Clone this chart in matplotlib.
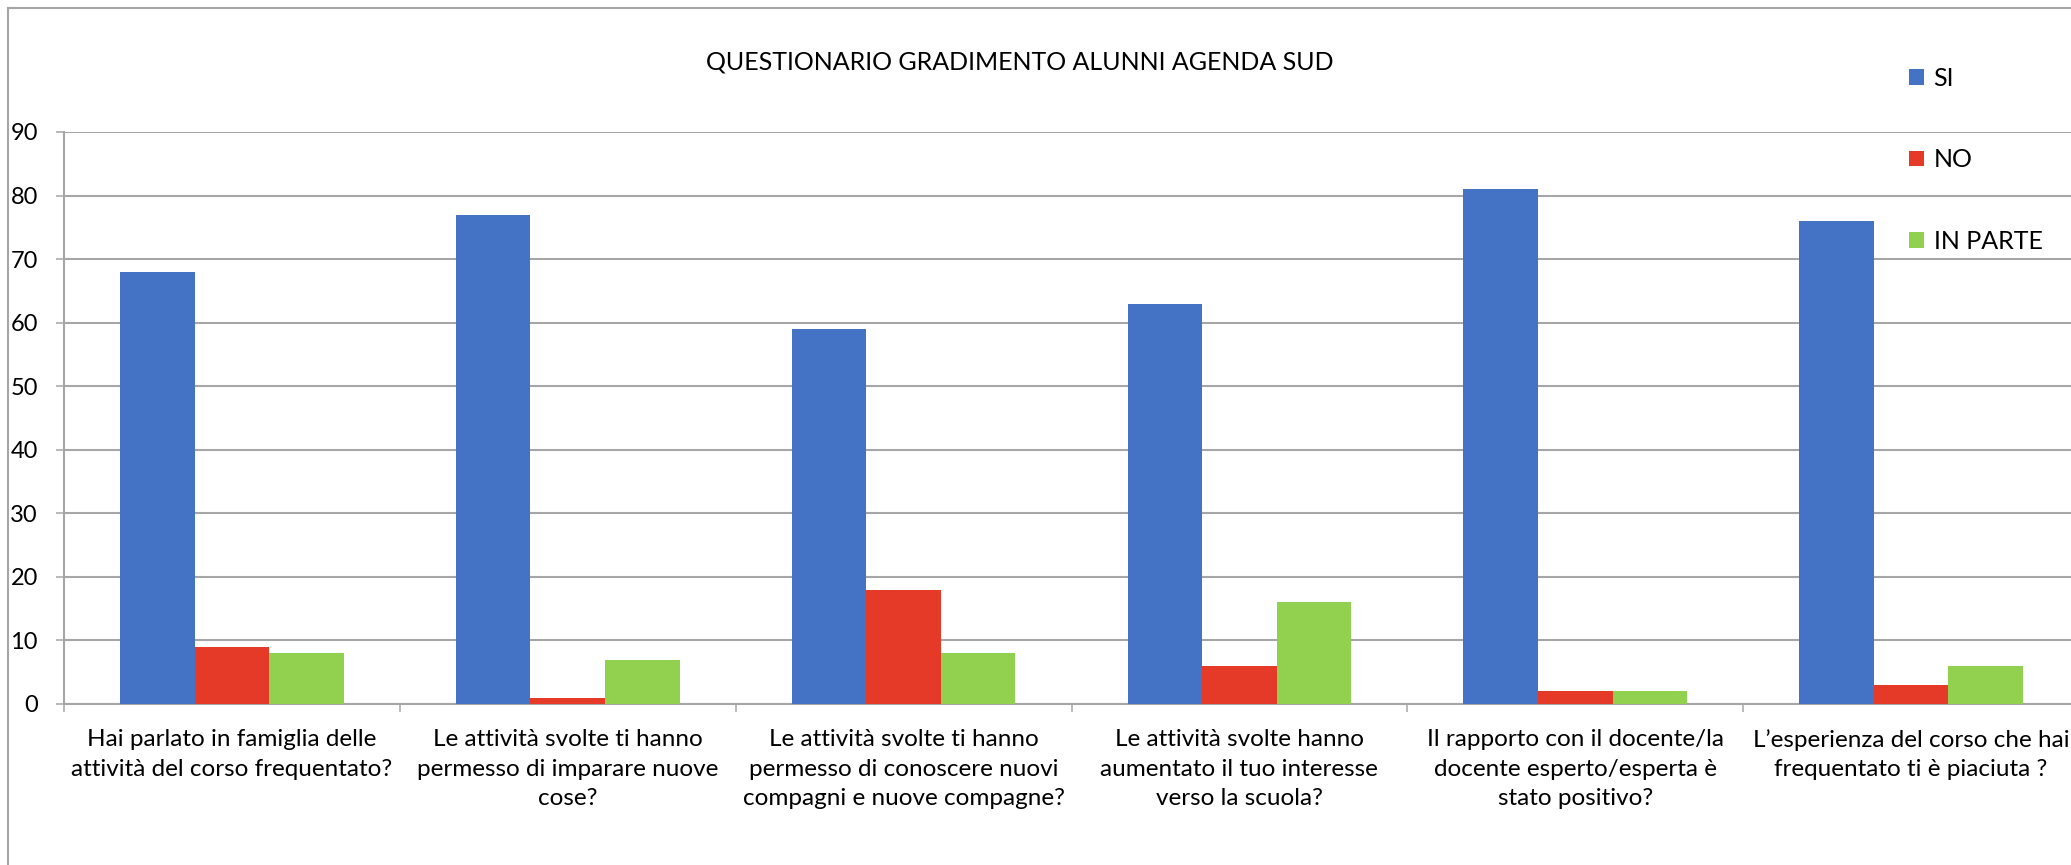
import matplotlib
matplotlib.use('Agg')
import matplotlib.pyplot as plt
from matplotlib.lines import Line2D
import numpy as np

domande = [
    'Hai parlato in famiglia delle\nattività del corso frequentato?',
    'Le attività svolte ti hanno\npermesso di imparare nuove\ncose?',
    'Le attività svolte ti hanno\npermesso di conoscere nuovi\ncompagni e nuove compagne?',
    'Le attività svolte hanno\naumentato il tuo interesse\nverso la scuola?',
    'Il rapporto con il docente/la\ndocente esperto/esperta è\nstato positivo?',
    'L’esperienza del corso che hai\nfrequentato ti è piaciuta ?',
]
si = [68, 77, 59, 63, 81, 76]
no = [9, 1, 18, 6, 2, 3]
in_parte = [8, 7, 8, 16, 2, 6]

plt.rcParams['font.family'] = ['Lato', 'DejaVu Sans']

W, H = 2071, 865
fig = plt.figure(figsize=(W / 100, H / 100), dpi=100)
ax = fig.add_axes([64 / W, 1 - 704 / H, (2079 - 64) / W, (704 - 132) / H])

grid_c = '#a6a6a6'
x = np.arange(len(domande))
w = 0.222
ax.bar(x - w, si, w, color='#4472C4', label='SI', zorder=3)
ax.bar(x, no, w, color='#E63A29', label='NO', zorder=3)
ax.bar(x + w, in_parte, w, color='#92D050', label='IN PARTE', zorder=3)

ax.set_xlim(-0.5, len(domande) - 0.5)
ax.set_ylim(0, 90)
ax.set_yticks(range(0, 91, 10))
ax.yaxis.grid(True, color=grid_c, linewidth=1.5, zorder=0)
ax.tick_params(axis='y', length=5.8, width=1.1, color=grid_c, pad=13, labelsize=17)

ax.set_xticks(x)
ax.set_xticklabels(domande, fontsize=17.5, linespacing=1.5)
ax.set_xticks(np.arange(-0.5, len(domande) + 0.5, 1), minor=True)
ax.tick_params(axis='x', which='major', length=0, pad=18)
ax.tick_params(axis='x', which='minor', length=5.8, width=1.1, color=grid_c)

for s in ['top', 'right']:
    ax.spines[s].set_visible(False)
for s in ['left', 'bottom']:
    ax.spines[s].set_color(grid_c)
    ax.spines[s].set_linewidth(1.5)

fig.text(1020 / W, 1 - 62 / H, 'QUESTIONARIO GRADIMENTO ALUNNI AGENDA SUD',
         ha='center', va='center', fontsize=18)

ax.legend(loc='upper left', bbox_to_anchor=(1886 / W, 1 - 44 / H),
          bbox_transform=fig.transFigure, frameon=False, fontsize=18,
          handlelength=0.6, handleheight=0.6, handletextpad=0.4,
          labelspacing=2.35)

# cornice del grafico
fig.add_artist(Line2D([8 / W, 8 / W], [0, 1 - 8 / H], color=grid_c, lw=1.5,
                      transform=fig.transFigure))
fig.add_artist(Line2D([8 / W, 1], [1 - 8 / H, 1 - 8 / H], color=grid_c, lw=1.5,
                      transform=fig.transFigure))

fig.savefig('out.png', dpi=100)
